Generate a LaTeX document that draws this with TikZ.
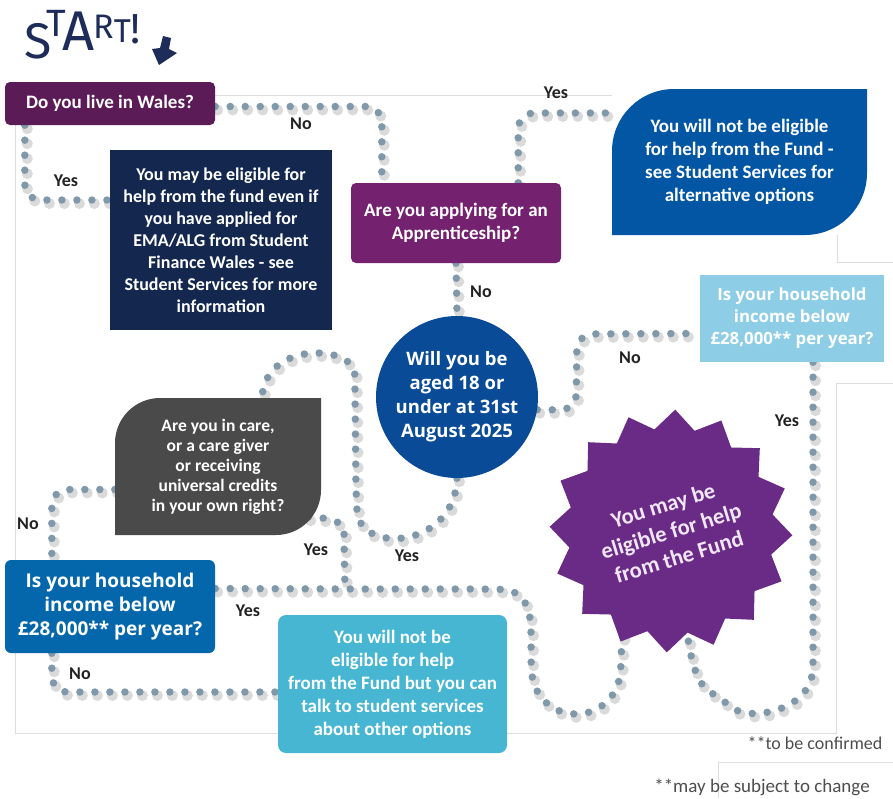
\documentclass[tikz,border=0pt]{standalone}
\usepackage{fontspec}
\setmainfont{Carlito}
\newfontfamily\qfont{Open Sans}
\newfontfamily\startfont{Fira Sans}
\usetikzlibrary{positioning,shapes.geometric,backgrounds}
\definecolor{ink}{HTML}{222222}
\definecolor{plum}{HTML}{5B1B57}
\definecolor{navy}{HTML}{14284F}
\definecolor{grape}{HTML}{74226F}
\definecolor{leafblue}{HTML}{0356A4}
\definecolor{sky}{HTML}{8ECDE6}
\definecolor{deepblue}{HTML}{0A4B98}
\definecolor{slate}{HTML}{4A4A4A}
\definecolor{ocean}{HTML}{0467AB}
\definecolor{aqua}{HTML}{46B6D3}
\definecolor{violet}{HTML}{6A2B86}
\definecolor{lavender}{HTML}{F0E6F5}
\definecolor{dotc}{HTML}{7F99AB}
\definecolor{shade}{HTML}{DADADA}
\definecolor{startc}{HTML}{1D2C58}
\definecolor{frame}{HTML}{DDDDDD}
\definecolor{note}{HTML}{4D4D4D}
\newcommand{\fsz}[2]{\fontsize{#1}{#2}\selectfont}

\begin{document}
\begin{tikzpicture}[x=1pt, y=1pt,
  qbox/.style  = {rectangle, inner sep=0pt, align=center, text=white},
  leaf/.style 2 args = {path picture={
      \fill[#1] (path picture bounding box.south west)
        -- ([yshift=-#2]path picture bounding box.north west)
        arc[start angle=180, end angle=90, radius=#2]
        -- (path picture bounding box.north east)
        -- ([yshift=#2]path picture bounding box.south east)
        arc[start angle=0, end angle=-90, radius=#2]
        -- cycle;}},
  track/.style = {draw=dotc, line width=7.5pt, line cap=round,
                  dash pattern=on 0pt off 15pt, rounded corners=16pt,
                  preaction={draw=shade, line width=11pt, line cap=round,
                             dash pattern=on 0pt off 15pt,
                             transform canvas={xshift=2.5pt, yshift=-3.5pt}}},
  lbl/.style   = {font=\fsz{18}{18}\bfseries, text=ink},
  frameline/.style = {draw=frame, line width=0.8pt},
]
\useasboundingbox (0,0) rectangle (893,-798);

% start
\node[anchor=base west, inner sep=0pt, text=startc, font=\startfont] (start) at (24,-58)
  {\fsz{50}{50}S\kern-5pt\raisebox{22pt}{\fsz{38}{38}T}\kern-4pt\raisebox{8pt}{\fsz{56}{56}A}%
   \kern-1pt\raisebox{20pt}{\fsz{34}{34}R}\raisebox{16pt}{\fsz{33}{33}T}\raisebox{15pt}{\fsz{42}{42}!}};
\fill[startc] (163,-36) -- (171,-38) -- (169,-49) -- (177,-53) -- (159,-65) -- (152,-49) -- (160,-48) -- cycle;

% questions and outcomes
\node[qbox, fill=plum, rounded corners=5pt, minimum width=210, minimum height=43,
      font=\fsz{19}{22}\bfseries] (wales) at (110,-103.5) {Do you live in Wales?};
\node[qbox, fill=navy, minimum width=222, minimum height=180,
      font=\fsz{18}{22}\bfseries] (navy) at (221,-240)
  {You may be eligible for\\help from the fund even if\\you have applied for\\EMA/ALG from Student\\Finance Wales - see\\Student Services for more\\information};
\node[qbox, fill=grape, rounded corners=5pt, minimum width=210, minimum height=80,
      font=\fsz{19}{23}\bfseries] (apprent) at (456,-223) {Are you applying for an\\Apprenticeship?};
\node[qbox, leaf={leafblue}{62pt}, minimum width=255, minimum height=146,
      font=\fsz{19}{23}\bfseries] (noteligible) at (739.5,-162)
  {You will not be eligible\\for help from the Fund -\\see Student Services for\\alternative options};
\node[qbox, fill=sky, minimum width=184, minimum height=87,
      font=\qfont\fsz{16.8}{22}\bfseries] (income1) at (792,-318.5)
  {Is your household\\income below\\£28,000** per year?};
\node[circle, inner sep=0pt, minimum size=162, fill=deepblue, text=white, align=center,
      font=\qfont\fsz{18.5}{24}\bfseries] (age) at (457,-397)
  {Will you be\\aged 18 or\\under at 31st\\August 2025};
\node[qbox, leaf={slate}{45pt}, minimum width=206, minimum height=137,
      font=\fsz{17.5}{20}\bfseries] (care) at (218,-466.5)
  {Are you in care,\\or a care giver\\or receiving\\universal credits\\in your own right?};
\node[qbox, fill=ocean, rounded corners=6pt, minimum width=210, minimum height=93,
      font=\qfont\fsz{19}{24}\bfseries] (income2) at (110,-606.5)
  {Is your household\\income below\\£28,000** per year?};
\node[qbox, fill=aqua, rounded corners=8pt, minimum width=229, minimum height=138,
      font=\fsz{19}{23}\bfseries] (talk) at (392.5,-684)
  {You will not be\\eligible for help\\from the Fund but you can\\talk to student services\\about other options};
\node[star, star points=16, star point ratio=1.18, minimum size=236, inner sep=0pt,
      fill=violet, text=lavender, align=center, rotate=17, shape border rotate=-19,
      font=\fsz{22.5}{27}\bfseries] (fund) at (671,-531)
  {You may be\\eligible for help\\from the Fund};

\coordinate (join) at (345,-589);

% dotted tracks
\begin{scope}[on background layer]
\draw[frameline] (215,-95) -- (612,-95);
\draw[frameline] (837,-235) -- (837,-262) -- (893,-262);
\draw[frameline] (893,-383) -- (836,-383) -- (836,-733) -- (15,-733) -- (15,-125);
\draw[frameline] (718,-798) -- (718,-762) -- (893,-762);

\draw[track] ([yshift=-3]wales.east) -| ([xshift=31]apprent.north west);
\draw[track] ([xshift=20]wales.south west) |- ([yshift=40]navy.west);
\draw[track] ([xshift=-43]apprent.north east) |- ([xshift=6,yshift=49]noteligible.west);
\draw[track] (apprent.south) -- (age.north);
\draw[track] (age.-9) -- (576,-410) -- (577,-334) -- ([yshift=-15]income1.west);
\draw[track] ([xshift=21]income1.south) -- (813,-650)
  .. controls (813,-712) and (750,-720) .. (722,-700)
  .. controls (700,-685) and (692,-670) .. (fund.-98);
\draw[track] (age.south) .. controls (455,-548) and (360,-555) .. (356,-495)
  -- (355,-390) .. controls (354,-345) and (265,-340) .. ([xshift=44]care.north);
\draw[track] ([yshift=-23]care.west) -| ([xshift=47]income2.north west);
\draw[track] ([xshift=-13,yshift=18]care.south east)
  .. controls (335,-517) and (344,-525) .. (344,-545) -- (join);
\draw[track] ([yshift=18]income2.east) -- (join) -- (485,-589)
  .. controls (528,-590) and (531,-615) .. (531,-650)
  .. controls (532,-730) and (620,-730) .. (621,-650) -- (fund.-131);
\draw[track] ([xshift=47]income2.south west) |- ([yshift=-8]talk.west);
\end{scope}

% answers
\node[lbl] (l1) at (301,-124) {No};
\node[lbl] (l2) at (66,-181) {Yes};
\node[lbl] (l3) at (556,-93) {Yes};
\node[lbl] (l4) at (481,-292) {No};
\node[lbl] (l5) at (630,-358) {No};
\node[lbl] (l6) at (787,-421) {Yes};
\node[lbl] (l7) at (28,-524) {No};
\node[lbl] (l8) at (316,-550) {Yes};
\node[lbl] (l9) at (407,-556) {Yes};
\node[lbl] (l10) at (248,-611) {Yes};
\node[lbl] (l11) at (80,-674) {No};

% footnotes
\node[text=note, font=\fsz{18}{18}] (conf) at (815,-743) {**to be confirmed};
\node[text=note, font=\fsz{19}{19}] (change) at (762,-787) {**may be subject to change};

\end{tikzpicture}
\end{document}
